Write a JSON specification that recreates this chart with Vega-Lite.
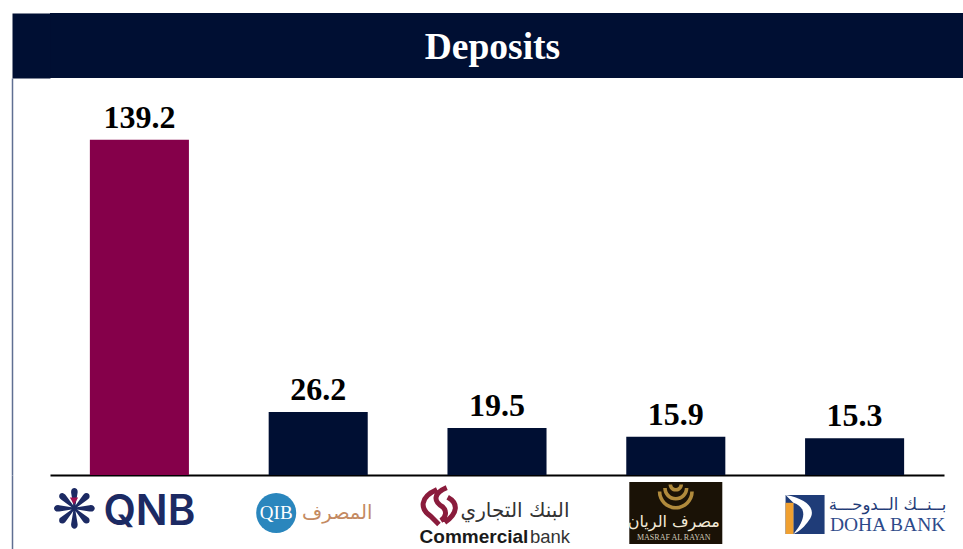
{
"$schema":"https://vega.github.io/schema/vega-lite/v6.json",
"padding":{"left":12,"top":13,"right":0,"bottom":0},
"autosize":"pad",
"background":"white",
"spacing":0,
"align":"none",
"bounds":"full",
"config":{"view":{"stroke":null}},
"vconcat":[
{"width":913,"height":65,"view":{"fill":"#000f33","stroke":null},
 "data":{"values":[{"title":"Deposits"}]},
 "mark":{"type":"text","font":"Liberation Serif","fontWeight":"bold","fontSize":37.5,"color":"white","dx":-14,"dy":2},
 "encoding":{"text":{"field":"title"},
  "y":{"datum":0.5,"type":"quantitative","scale":{"domain":[0,1],"nice":false},
   "axis":{"title":null,"labels":false,"ticks":false,"grid":false,"domainColor":"#000f33","domainWidth":38,"offset":19}}}},
{"width":894,"height":397,
 "data":{"values":[
  {"bank":"QNB","deposits":139.2},
  {"bank":"QIB","deposits":26.2},
  {"bank":"Commercial Bank","deposits":19.5},
  {"bank":"Masraf Al Rayan","deposits":15.9},
  {"bank":"Doha Bank","deposits":15.3}]},
 "encoding":{
  "x":{"field":"bank","type":"nominal","sort":null,"scale":{"paddingInner":0.446,"paddingOuter":0.223},
   "axis":{"title":null,"labels":false,"ticks":false,"domainColor":"#000000","domainWidth":2,"grid":false}},
  "y":{"field":"deposits","type":"quantitative","scale":{"domain":[0,164.9],"nice":false},
   "axis":{"title":null,"labels":false,"ticks":false,"grid":false,"domainColor":"#5f6f92","domainWidth":1.5,"offset":38}}
 },
 "layer":[
  {"mark":{"type":"bar"},"encoding":{"color":{"field":"bank","type":"nominal","sort":null,"legend":null,
    "scale":{"domain":["QNB","QIB","Commercial Bank","Masraf Al Rayan","Doha Bank"],"range":["#85004a","#000f33","#000f33","#000f33","#000f33"]}}}},
  {"mark":{"type":"text","font":"Liberation Serif","fontWeight":"bold","fontSize":32,"color":"#000000","baseline":"bottom","dy":-5},
   "encoding":{"text":{"field":"deposits","type":"quantitative","format":".1f"}}}
 ]},
{"width":894,"height":74,
 "encoding":{
  "x":{"field":"bank","type":"nominal","sort":null,"scale":{"domain":["QNB","QIB","Commercial Bank","Masraf Al Rayan","Doha Bank"],"paddingInner":0.446,"paddingOuter":0.223},"axis":null}
 },
 "layer":[
  {"data":{"values":[{"bank":"QNB","t":"QNB"}]},
   "mark":{"type":"text","font":"Inter","fontWeight":600,"fontSize":42,"color":"#1c2a63","dx":10},
   "encoding":{"text":{"field":"t"},"y":{"datum":37,"type":"quantitative","scale":{"domain":[74,0],"nice":false,"zero":false},
      "axis":{"title":null,"labels":false,"ticks":false,"grid":false,"domainColor":"#5f6f92","domainWidth":1.5,"offset":38}}}},
  {"data":{"values":[{"bank":"QNB","t":"❋"}]},
   "mark":{"type":"text","font":"DejaVu Sans","fontSize":54,"color":"#1c2a63","dx":-65},
   "encoding":{"text":{"field":"t"},"y":{"datum":37,"type":"quantitative"}}},
  {"data":{"values":[{"bank":"QNB"}]},
   "mark":{"type":"point","filled":true,"opacity":1,"color":"#a01050","shape":"triangle-down","size":70},
   "encoding":{"x":{"field":"bank","type":"nominal","bandPosition":-0.16},"y":{"datum":26,"type":"quantitative"}}},
  {"data":{"values":[{"bank":"QIB"}]},
   "mark":{"type":"point","filled":true,"opacity":1,"color":"#2a86bd","shape":"circle","size":1600},
   "encoding":{"x":{"field":"bank","type":"nominal","bandPosition":0.076},"y":{"datum":38,"type":"quantitative"}}},
  {"data":{"values":[{"bank":"QIB","t":"QIB"}]},
   "mark":{"type":"text","font":"Liberation Serif","fontSize":19,"color":"#ffffff","dx":-42},
   "encoding":{"text":{"field":"t"},"y":{"datum":38,"type":"quantitative"}}},
  {"data":{"values":[{"bank":"QIB","t":"المصرف"}]},
   "mark":{"type":"text","font":"DejaVu Sans","fontSize":19.5,"color":"#c48a62","dx":19},
   "encoding":{"text":{"field":"t"},"y":{"datum":38,"type":"quantitative"}}},
  {"data":{"values":[{"bank":"Commercial Bank"}]},
   "mark":{"type":"point","filled":false,"opacity":1,"color":"#8a1c3c","strokeWidth":5,"size":1500,"shape":"M-0.1,-0.9C-1,-0.5 -1,0.1 -0.4,0.5L0,0.9M0.4,-1C-0.3,-0.7 -0.3,-0.3 0.2,0C0.4,0.2 0.4,0.5 0.1,0.7M0.45,-0.5C1,-0.2 1,0.3 0.3,0.8"},
   "encoding":{"x":{"field":"bank","type":"nominal","bandPosition":-0.086},"y":{"datum":32,"type":"quantitative"}}},
  {"data":{"values":[{"bank":"Commercial Bank","t":"البنك التجاري"}]},
   "mark":{"type":"text","font":"DejaVu Sans","fontSize":20,"color":"#333333","dx":18},
   "encoding":{"text":{"field":"t"},"y":{"datum":36,"type":"quantitative"}}},
  {"data":{"values":[{"bank":"Commercial Bank","t":"Commercial"}]},
   "mark":{"type":"text","font":"Liberation Sans","fontWeight":"bold","fontSize":19,"color":"#1a1a1a","dx":-23},
   "encoding":{"text":{"field":"t"},"y":{"datum":62,"type":"quantitative"}}},
  {"data":{"values":[{"bank":"Commercial Bank","t":"bank"}]},
   "mark":{"type":"text","font":"Liberation Sans","fontSize":18.5,"color":"#333333","dx":53},
   "encoding":{"text":{"field":"t"},"y":{"datum":62,"type":"quantitative"}}},
  {"data":{"values":[{"bank":"Masraf Al Rayan"}]},
   "mark":{"type":"bar","color":"#1a1206","width":93},
   "encoding":{"y":{"datum":7,"type":"quantitative"},"y2":{"datum":69}}},
  {"data":{"values":[{"bank":"Masraf Al Rayan"}]},
   "mark":{"type":"point","filled":true,"opacity":1,"color":"#b08a3c","size":1300,"shape":"M-1,-0.3A1,1 0 0 0 1,-0.3L0.8,-0.3A0.8,0.8 0 0 1 -0.8,-0.3ZM-0.7,-0.5A0.7,0.7 0 0 0 0.7,-0.5L0.5,-0.5A0.5,0.5 0 0 1 -0.5,-0.5ZM-0.4,-0.7A0.4,0.4 0 0 0 0.4,-0.7L0.2,-0.7A0.2,0.2 0 0 1 -0.2,-0.7Z"},
   "encoding":{"y":{"datum":22,"type":"quantitative"}}},
  {"data":{"values":[{"bank":"Masraf Al Rayan","t":"مصرف الريان"}]},
   "mark":{"type":"text","font":"DejaVu Sans","fontSize":16,"color":"#f2ead8","dx":-2},
   "encoding":{"text":{"field":"t"},"y":{"datum":47,"type":"quantitative"}}},
  {"data":{"values":[{"bank":"Masraf Al Rayan","t":"MASRAF AL RAYAN"}]},
   "mark":{"type":"text","font":"Liberation Serif","fontSize":8,"color":"#cfc8b8","dx":-2},
   "encoding":{"text":{"field":"t"},"y":{"datum":63,"type":"quantitative"}}},
  {"data":{"values":[{"bank":"Doha Bank"}]},
   "mark":{"type":"point","filled":true,"opacity":1,"color":"#1f3c78","shape":"square","size":1521},
   "encoding":{"x":{"field":"bank","type":"nominal","bandPosition":0},"y":{"datum":39.5,"type":"quantitative"}}},
  {"data":{"values":[{"bank":"Doha Bank"}]},
   "mark":{"type":"point","filled":true,"opacity":1,"color":"#ffffff","size":1521,"shape":"M-1,-1C0.2,-0.8 0.6,-0.2 0.2,0.3C0,0.6 -0.3,0.9 -0.6,1L-0.6,-0.6Z"},
   "encoding":{"x":{"field":"bank","type":"nominal","bandPosition":0},"y":{"datum":39.5,"type":"quantitative"}}},
  {"data":{"values":[{"bank":"Doha Bank"}]},
   "mark":{"type":"point","filled":true,"opacity":1,"color":"#1f3c78","size":1521,"shape":"M-0.6,-0.6C0,-0.4 0.15,0.1 -0.6,1Z"},
   "encoding":{"x":{"field":"bank","type":"nominal","bandPosition":0},"y":{"datum":39.5,"type":"quantitative"}}},
  {"data":{"values":[{"bank":"Doha Bank"}]},
   "mark":{"type":"point","filled":true,"opacity":1,"color":"#f0a030","size":1521,"shape":"M-1,-0.6H-0.6V1H-1Z"},
   "encoding":{"x":{"field":"bank","type":"nominal","bandPosition":0},"y":{"datum":39.5,"type":"quantitative"}}},
  {"data":{"values":[{"bank":"Doha Bank","t":"بــنــك الــدوحـــة"}]},
   "mark":{"type":"text","font":"DejaVu Sans","fontSize":16.5,"color":"#1f3c78","dx":33},
   "encoding":{"text":{"field":"t"},"y":{"datum":30,"type":"quantitative"}}},
  {"data":{"values":[{"bank":"Doha Bank","t":"DOHA BANK"}]},
   "mark":{"type":"text","font":"Liberation Serif","fontSize":19.5,"color":"#2d4a8a","dx":33},
   "encoding":{"text":{"field":"t"},"y":{"datum":50,"type":"quantitative"}}}
 ]}
]
}
